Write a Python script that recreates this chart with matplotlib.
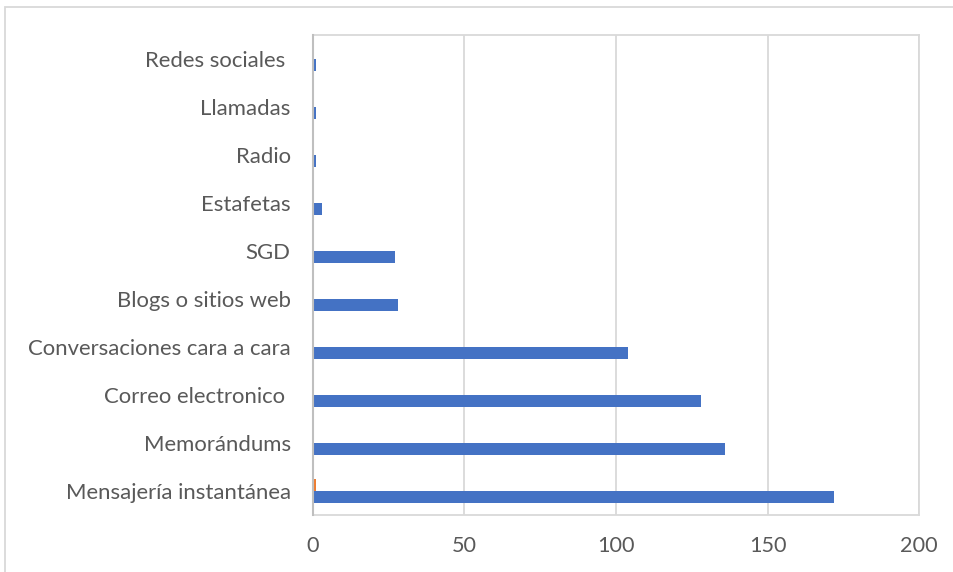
import matplotlib
matplotlib.use("Agg")
import matplotlib.pyplot as plt
from matplotlib.patches import Rectangle
import numpy as np

categories = ["Mensajería instantánea", "Memorándums", "Correo electronico ",
              "Conversaciones cara a cara", "Blogs o sitios web", "SGD",
              "Estafetas", "Radio", "Llamadas", "Redes sociales "]
series_blue = [172, 136, 128, 104, 28, 27, 3, 1, 1, 1]
series_orange = [1, 0, 0, 0, 0, 0, 0, 0, 0, 0]
x_ticks = [0, 50, 100, 150, 200]

plt.rcParams["font.family"] = ["Lato", "DejaVu Sans"]

fig = plt.figure(figsize=(9.54, 5.72), dpi=100)
ax = fig.add_axes([313 / 954, 1 - 515 / 572, (919 - 313) / 954, 480 / 572])

y = np.arange(len(categories))
h = 0.26
ax.barh(y - h / 2, series_blue, height=h, color="#4472C4", zorder=3)
ax.barh(y + h / 2, series_orange, height=h, color="#ED7D31", zorder=3)

ax.set_xlim(0, 200)
ax.set_ylim(-0.5, len(categories) - 0.5)
ax.set_xticks(x_ticks)
ax.set_yticks(y)
ax.set_yticklabels(categories)
ax.tick_params(axis="x", length=0, pad=15, labelsize=15.6, labelcolor="#595959")
ax.tick_params(axis="y", length=0, pad=16, labelsize=15.9, labelcolor="#595959")
ax.xaxis.grid(True, color="#D9D9D9", linewidth=1.3, zorder=0)
ax.yaxis.grid(False)
for side in ["top", "bottom", "right"]:
    ax.spines[side].set_color("#D9D9D9")
    ax.spines[side].set_linewidth(1.3)
ax.spines["left"].set_color("#BFBFBF")
ax.spines["left"].set_linewidth(1.5)
ax.spines["left"].set_zorder(4)

# light frame around the chart area
fig.patches.append(Rectangle((5 / 954, -0.05), 1.1, 1 - 7 / 572 + 0.05,
                             transform=fig.transFigure, fill=False,
                             edgecolor="#D9D9D9", linewidth=1.3))

fig.savefig("out.png", dpi=100, facecolor="white")
